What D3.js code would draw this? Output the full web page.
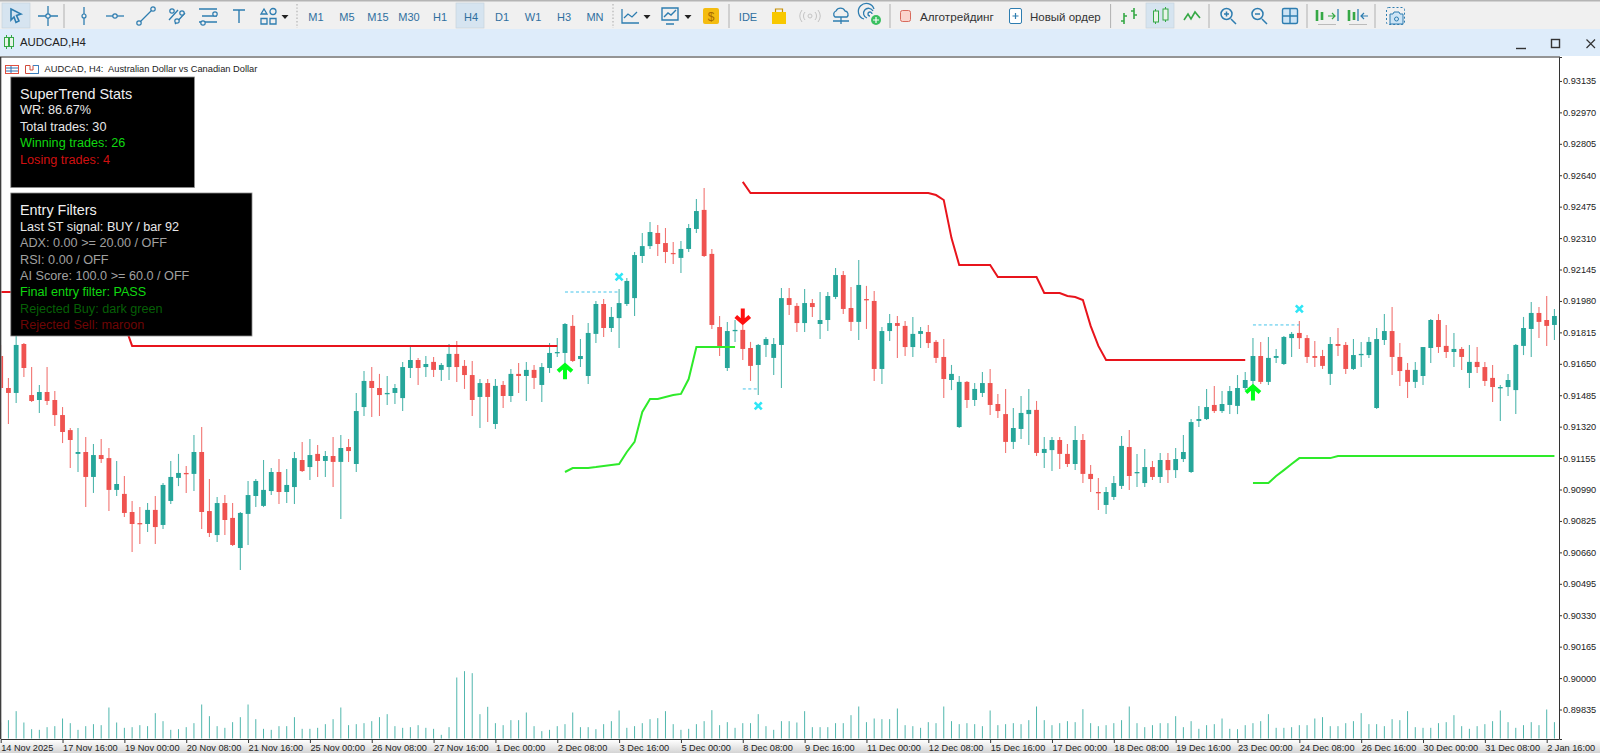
<!DOCTYPE html>
<html>
<head>
<meta charset="utf-8">
<title>AUDCAD,H4</title>
<script src="https://cdn.jsdelivr.net/npm/d3@7"></script>
<style>
	html, body { margin: 0; padding: 0; background: #fff; overflow: hidden; }
	text { font-family: "Liberation Sans", Arial, sans-serif; }
</style>
</head>
<body>
<div id="chart"></div>
<script>

// prices are in points, 1 point = 0.00001
var opens = [
	91691,91523,91497,91754,91486,91460,91502,91460,91381,91302,
	91177,91187,91056,91171,91155,90988,90967,90872,90814,90809,
	90883,90804,90930,91051,91077,91072,91187,90877,90751,90919,
	90841,90683,90862,90956,90904,90982,91082,90977,91003,91145,
	91108,91177,91140,91166,91135,91213,91124,91423,91560,91523,
	91492,91497,91470,91628,91670,91633,91660,91618,91633,91702,
	91639,91591,91476,91549,91334,91539,91481,91597,91586,91618,
	91539,91628,91707,91707,91849,91675,91586,91807,91964,91838,
	91890,91964,91995,92216,92268,92337,92284,92232,92206,92253,
	92358,92458,92227,91843,91628,91822,91828,91733,91644,91749,
	91681,91749,91995,91954,91864,91969,91859,91880,92001,92116,
	91943,91870,91990,91980,91623,91822,91864,91849,91738,91807,
	91817,91765,91686,91565,91318,91555,91460,91497,91549,91439,
	91386,91240,91308,91386,91408,91182,91197,91250,91177,91124,
	91250,91072,90977,90909,90951,91009,91213,91077,91024,91108,
	91056,91145,91092,91150,91082,91350,91360,91434,91402,91434,
	91429,91523,91560,91691,91555,91681,91649,91785,91812,91785,
	91691,91691,91597,91754,91749,91623,91696,91696,91418,91775,
	91822,91686,91618,91555,91586,91733,91880,91744,91712,91728,
	91602,91660,91633,91576,91523,91528,91512,91744,91833,91917,
	91880,91854
];
var highs = [
	91749,91576,91801,91759,91633,91539,91633,91507,91423,91313,
	91313,91266,91229,91255,91208,91140,91061,90930,90898,90919,
	90956,91024,91140,91177,91114,91276,91318,91045,90951,90961,
	90919,90872,91035,91045,91145,91103,91150,91098,91187,91240,
	91255,91224,91192,91266,91276,91255,91497,91612,91633,91597,
	91586,91544,91660,91738,91681,91691,91686,91654,91754,91770,
	91670,91665,91570,91570,91570,91560,91623,91654,91660,91644,
	91654,91759,91786,91864,91906,91780,91864,91980,91990,91948,
	92043,92100,92237,92337,92395,92379,92363,92289,92295,92384,
	92515,92573,92253,91901,91870,91880,91854,91765,91754,91791,
	91786,92048,92048,91969,92043,91990,92027,92027,92153,92137,
	92053,92195,92059,92032,91843,91912,91901,91875,91896,91843,
	91854,91775,91780,91644,91586,91560,91549,91607,91623,91492,
	91518,91418,91481,91518,91455,91266,91266,91266,91229,91324,
	91281,91119,91051,91003,91061,91271,91302,91177,91203,91140,
	91182,91182,91208,91276,91360,91428,91518,91533,91507,91533,
	91591,91607,91786,91765,91791,91728,91796,91817,91875,91801,
	91770,91723,91791,91838,91765,91780,91765,91791,91838,91911,
	91948,91759,91654,91660,91738,91885,91911,91854,91812,91738,
	91749,91738,91660,91644,91539,91597,91754,91896,91975,91948,
	92006,91938
];
var lows = [
	91512,91334,91444,91581,91450,91392,91434,91324,91234,91103,
	91082,90898,90972,91129,90877,90956,90846,90662,90704,90767,
	90704,90783,90914,91008,90972,90982,90783,90741,90715,90751,
	90694,90568,90699,90898,90898,90961,90914,90919,90914,91082,
	91040,91056,91056,91003,90835,91135,91082,91376,91371,91376,
	91434,91439,91402,91576,91539,91581,91581,91560,91565,91555,
	91518,91376,91313,91345,91308,91418,91450,91497,91455,91518,
	91450,91602,91686,91607,91660,91633,91544,91759,91791,91817,
	91733,91953,91901,92179,92253,92216,92179,92174,92127,92237,
	92337,92211,91833,91691,91612,91765,91670,91560,91486,91686,
	91591,91523,91906,91817,91817,91896,91780,91822,91990,91912,
	91822,91775,91833,91560,91544,91770,91681,91691,91686,91733,
	91733,91654,91471,91512,91313,91418,91429,91476,91381,91366,
	91182,91203,91255,91224,91166,91103,91087,91098,91108,91093,
	91024,90977,90883,90862,90935,90993,90988,91003,91003,91040,
	91024,91024,91051,91135,91077,91318,91355,91392,91392,91386,
	91386,91512,91533,91544,91539,91654,91644,91686,91728,91654,
	91633,91623,91539,91691,91597,91618,91633,91681,91413,91749,
	91591,91533,91470,91523,91539,91654,91707,91681,91633,91618,
	91523,91602,91533,91450,91350,91481,91386,91696,91686,91785,
	91744,91775
];
var closes = [
	91523,91497,91749,91628,91455,91502,91455,91381,91292,91250,
	91187,91056,91171,91150,90988,91019,90867,90809,90809,90883,
	90793,91014,91056,91077,91072,91187,90872,90762,90919,90830,
	90699,90867,90961,91035,90988,91082,90977,91014,91155,91087,
	91171,91140,91166,91135,91208,91192,91402,91560,91523,91486,
	91497,91523,91633,91670,91628,91649,91618,91644,91702,91633,
	91591,91460,91549,91476,91534,91481,91597,91586,91618,91576,
	91633,91707,91712,91859,91665,91691,91812,91964,91838,91896,
	91969,92085,92221,92268,92342,92279,92237,92227,92253,92363,
	92452,92216,91854,91738,91822,91828,91728,91639,91749,91780,
	91754,91995,91959,91864,91969,91948,91880,92006,92116,91938,
	91870,92064,91985,91623,91822,91864,91849,91738,91807,91822,
	91759,91681,91570,91597,91555,91460,91518,91549,91434,91402,
	91240,91313,91392,91408,91182,91203,91250,91177,91124,91250,
	91072,91045,90972,90977,91024,91219,91061,91082,91108,91056,
	91145,91092,91150,91187,91344,91360,91423,91402,91439,91507,
	91523,91565,91691,91555,91681,91691,91791,91807,91785,91686,
	91681,91639,91754,91744,91623,91696,91702,91765,91780,91822,
	91686,91612,91555,91618,91738,91880,91738,91712,91728,91686,
	91660,91633,91560,91528,91528,91565,91749,91838,91917,91870,
	91849,91901
];
var volumes = [
	480,550,820,480,280,260,340,370,600,460,
	260,370,430,400,930,480,320,340,400,370,
	760,520,260,280,340,460,1020,670,370,320,
	490,640,1020,580,290,260,370,370,640,290,
	290,320,430,580,930,400,430,460,520,640,
	730,370,320,340,400,320,290,110,340,1830,
	2020,1960,730,950,460,400,550,550,780,370,
	220,260,370,430,780,340,340,280,430,520,
	840,320,370,460,580,610,820,430,260,290,
	430,520,850,400,490,320,460,460,730,370,
	260,520,520,480,820,340,340,340,460,460,
	700,960,490,600,580,580,900,400,370,320,
	490,460,960,520,430,460,430,370,840,400,
	430,460,430,550,960,550,400,460,520,490,
	880,460,370,400,460,550,960,460,340,400,
	460,460,670,340,520,290,400,430,600,290,
	280,400,460,520,730,320,320,340,400,400,
	600,640,370,370,460,520,760,430,430,370,
	580,550,820,340,320,320,460,490,700,370,
	290,370,430,520,840,490,320,400,490,400,
	870,490
];

var priceTicks = [93135,92970,92805,92640,92475,92310,92145,91980,91815,91650,91485,91320,91155,90990,90825,90660,90495,90330,90165,90000,89835];

var timeLabels = [
	"14 Nov 2025","17 Nov 16:00","19 Nov 00:00","20 Nov 08:00","21 Nov 16:00","25 Nov 00:00",
	"26 Nov 08:00","27 Nov 16:00","1 Dec 00:00","2 Dec 08:00","3 Dec 16:00","5 Dec 00:00",
	"8 Dec 08:00","9 Dec 16:00","11 Dec 00:00","12 Dec 08:00","15 Dec 16:00","17 Dec 00:00",
	"18 Dec 08:00","19 Dec 16:00","23 Dec 00:00","24 Dec 08:00","26 Dec 16:00","30 Dec 00:00",
	"31 Dec 08:00","2 Jan 16:00"
];

// SuperTrend line pieces as [bar, price]
var stRedA = [[0,92027],[15,92027],[16,91859],[17,91744],[72,91744]];
var stGreenA = [[73,91082],[74,91103],[76,91103],[77,91108],[78,91114],[79,91119],[80,91124],[81,91187],[82,91240],[83,91397],[84,91465],[85,91465],[86,91476],[87,91486],[88,91492],[89,91570],[90,91738],[95,91738]];
var stRedB = [[96,92605],[97,92547],[120,92547],[121,92536],[122,92510],[123,92310],[124,92169],[128,92169],[129,92106],[134,92106],[135,92022],[137,92022],[138,92006],[139,92001],[140,91985],[141,91849],[142,91744],[143,91670],[161,91670]];
var stGreenB = [[162,91024],[164,91024],[165,91061],[166,91092],[167,91124],[168,91155],[172,91155],[173,91166],[201,91166]];

// entry arrows and the exit crosses with their dashed level
var buyArrows = [[73,91655],[162,91544]];
var sellArrows = [[96,91854]];
var exitCrosses = [[80,92106],[98,91429],[168,91938]];
var exitLevels = [[73,80,92027],[96,98,91518],[162,168,91854]];

var statsLines = ["WR: 86.67%","Total trades: 30","Winning trades: 26","Losing trades: 4"];
var statsColors = ["#e8e8e8","#e8e8e8","#10d810","#d01010"];
var filterLines = ["Last ST signal: BUY / bar 92","ADX: 0.00 >= 20.00 / OFF","RSI: 0.00 / OFF","AI Score: 100.0 >= 60.0 / OFF","Final entry filter: PASS","Rejected Buy: dark green","Rejected Sell: maroon"];
var filterColors = ["#e8e8e8","#a0a0a0","#a0a0a0","#a0a0a0","#10d810","#065f06","#6e0505"];

var width = 1600;
var height = 753;
var plot = {left: 1, right: 1559, top: 57, bottom: 739};
var upColor = "#26a69a";
var downColor = "#ef5350";

var svg = d3.select("#chart").append("svg")
	.attr("width", width)
	.attr("height", height)
	.style("display", "block");

var defs = svg.append("defs");
defs.append("clipPath").attr("id", "plot-clip")
	.append("rect")
	.attr("x", plot.left + 0.5)
	.attr("y", plot.top)
	.attr("width", plot.right - plot.left - 0.5)
	.attr("height", plot.bottom - plot.top);
var fade = defs.append("linearGradient").attr("id", "axis-fade")
	.attr("x1", 0).attr("x2", 0).attr("y1", 0).attr("y2", 1);
fade.append("stop").attr("offset", "0%").attr("stop-color", "#ffffff");
fade.append("stop").attr("offset", "100%").attr("stop-color", "#d4d4d4");

var x = d3.scaleLinear().domain([0, 200]).range([0.7, 1546.7]);
var y = d3.scaleLinear().domain([93260.75, 89680.25]).range([plot.top, plot.bottom]);
var yVolume = d3.scaleLinear().domain([0, 3000]).range([738.5, 638.5]);

svg.append("rect").attr("width", width).attr("height", height).attr("fill", "#fff");
svg.append("rect").attr("x", 0).attr("y", 740).attr("width", width).attr("height", 13).attr("fill", "url(#axis-fade)");

drawToolbar();

var chart = svg.append("g").attr("clip-path", "url(#plot-clip)");

// volume
chart.append("g").selectAll("line")
	.data(volumes)
	.enter().append("line")
	.attr("x1", function(d, i) { return x(i); })
	.attr("x2", function(d, i) { return x(i); })
	.attr("y1", yVolume(0))
	.attr("y2", function(d) { return yVolume(d); })
	.attr("stroke", upColor)
	.attr("stroke-width", 1)
	.attr("opacity", 0.8);

// candles
var candle = chart.append("g").selectAll("g")
	.data(opens)
	.enter().append("g");

candle.append("line")
	.attr("x1", function(d, i) { return x(i); })
	.attr("x2", function(d, i) { return x(i); })
	.attr("y1", function(d, i) { return y(highs[i]); })
	.attr("y2", function(d, i) { return y(lows[i]); })
	.attr("stroke", function(d, i) { return closes[i] >= opens[i] ? upColor : downColor; })
	.attr("stroke-width", 1.1)
	.attr("opacity", 0.8);

candle.append("rect")
	.attr("x", function(d, i) { return x(i) - 2.4; })
	.attr("y", function(d, i) { return y(Math.max(opens[i], closes[i])); })
	.attr("width", 4.8)
	.attr("height", function(d, i) { return Math.max(1.3, Math.abs(y(opens[i]) - y(closes[i]))); })
	.attr("fill", function(d, i) { return closes[i] >= opens[i] ? upColor : downColor; });

// supertrend
var stLine = d3.line()
	.x(function(d) { return x(d[0]); })
	.y(function(d) { return y(d[1]); });

[[stRedA, "#e8141c"], [stGreenA, "#2eea2a"], [stRedB, "#e8141c"], [stGreenB, "#2eea2a"]].forEach(function(piece) {
	chart.append("path")
		.attr("d", stLine(piece[0]))
		.attr("fill", "none")
		.attr("stroke", piece[1])
		.attr("stroke-width", 2);
});

// exit levels
chart.append("g").selectAll("line")
	.data(exitLevels)
	.enter().append("line")
	.attr("x1", function(d) { return x(d[0]); })
	.attr("x2", function(d) { return x(d[1]); })
	.attr("y1", function(d) { return y(d[2]); })
	.attr("y2", function(d) { return y(d[2]); })
	.attr("stroke", "#45c4ea")
	.attr("stroke-width", 1)
	.attr("stroke-dasharray", "3,2.5");

chart.append("g").selectAll("path")
	.data(exitCrosses)
	.enter().append("path")
	.attr("transform", function(d) { return "translate(" + x(d[0]) + "," + y(d[1]) + ")"; })
	.attr("d", "M-3.5,-3.5L3.5,3.5M-3.5,3.5L3.5,-3.5")
	.attr("fill", "none")
	.attr("stroke", "#2fe6f6")
	.attr("stroke-width", 2.6);

// arrows point at their price
chart.append("g").selectAll("path")
	.data(buyArrows)
	.enter().append("path")
	.attr("transform", function(d) { return "translate(" + x(d[0]) + "," + y(d[1]) + ")"; })
	.attr("d", "M-7,8.5L0,2.4L7,8.5M0,2V16.5")
	.attr("fill", "none")
	.attr("stroke", "#00ff1a")
	.attr("stroke-width", 4);

chart.append("g").selectAll("path")
	.data(sellArrows)
	.enter().append("path")
	.attr("transform", function(d) { return "translate(" + x(d[0]) + "," + y(d[1]) + ")"; })
	.attr("d", "M-7,-8.5L0,-2.4L7,-8.5M0,-2V-16.5")
	.attr("fill", "none")
	.attr("stroke", "#ff1010")
	.attr("stroke-width", 4);

// axes
var yAxis = svg.append("g")
	.attr("transform", "translate(" + plot.right + ",0)")
	.call(d3.axisRight(y)
		.tickValues(priceTicks)
		.tickSize(3)
		.tickPadding(1)
		.tickFormat(function(d) { return (d / 100000).toFixed(5); }));
yAxis.select(".domain").attr("stroke", "#333");
yAxis.selectAll(".tick line").attr("stroke", "#333");
yAxis.selectAll("text")
	.attr("font-family", "Liberation Sans")
	.attr("font-size", 9.2)
	.attr("fill", "#222");

var xAxis = svg.append("g")
	.attr("transform", "translate(0," + plot.bottom + ")")
	.call(d3.axisBottom(x)
		.tickValues(d3.range(0, 201, 8))
		.tickSize(4)
		.tickFormat(function(d, i) { return timeLabels[i]; }));
xAxis.select(".domain").attr("d", "M" + plot.left + ",0.5H" + plot.right).attr("stroke", "#333");
xAxis.selectAll(".tick line").attr("stroke", "#333");
xAxis.selectAll("text")
	.attr("font-family", "Liberation Sans")
	.attr("font-size", 9.2)
	.attr("fill", "#222")
	.attr("text-anchor", "start")
	.attr("x", 0)
	.attr("y", 5)
	.attr("dy", "0.71em");

// chart frame
svg.append("line").attr("x1", 0).attr("x2", plot.right + 1).attr("y1", 57).attr("y2", 57).attr("stroke", "#2a2a2a").attr("stroke-width", 1.2);
svg.append("line").attr("x1", 0.7).attr("x2", 0.7).attr("y1", 57).attr("y2", 739).attr("stroke", "#2a2a2a").attr("stroke-width", 1.2);

// title
svg.append("text")
	.attr("x", 44.5).attr("y", 71.5)
	.attr("font-family", "DejaVu Sans")
	.attr("font-size", 9.3)
	.attr("fill", "#222")
	.text("AUDCAD, H4:  Australian Dollar vs Canadian Dollar")
	.attr("xml:space", "preserve");

// little icons in front of the title
var titleIcon = svg.append("g").attr("fill", "none").attr("stroke-width", 1);
titleIcon.append("rect").attr("x", 5.5).attr("y", 65.5).attr("width", 13).attr("height", 8).attr("stroke", "#e05040");
titleIcon.append("path").attr("d", "M6,68H18M6,71H18M11,66V73").attr("stroke", "#3070b0");
titleIcon.append("path").attr("d", "M25.5,65.5H30V70H33V65.5H38.5V73.5H25.5Z").attr("stroke", "#d04a3a");
titleIcon.append("path").attr("d", "M33,65.5H38.5V73.5H30").attr("stroke", "#3a80c0");

drawPanel(10.8, 77, 183.6, 110.5, "SuperTrend Stats", 99, statsLines, statsColors, 114, 16.6);
drawPanel(10.8, 193, 241.2, 143, "Entry Filters", 215, filterLines, filterColors, 230.7, 16.4);

function drawPanel(px, py, pw, ph, title, titleY, lines, colors, firstY, step) {
	var g = svg.append("g");
	g.append("rect")
		.attr("x", px).attr("y", py)
		.attr("width", pw).attr("height", ph)
		.attr("fill", "#000")
		.attr("stroke", "#8a8a8a")
		.attr("stroke-width", 0.8);
	g.append("text")
		.attr("x", 20).attr("y", titleY)
		.attr("font-size", 14.4)
		.attr("fill", "#f0f0f0")
		.text(title);
	g.selectAll(".row")
		.data(lines)
		.enter().append("text")
		.attr("class", "row")
		.attr("x", 20)
		.attr("y", function(d, i) { return firstY + i * step; })
		.attr("font-size", 12.65)
		.attr("fill", function(d, i) { return colors[i]; })
		.text(function(d) { return d; });
}

function drawToolbar() {
	var blue = "#2e7db0";
	var green = "#35a845";

	svg.append("rect").attr("x", 0).attr("y", 0).attr("width", width).attr("height", 29).attr("fill", "#f0f0f0");
	svg.append("rect").attr("x", 0).attr("y", 0).attr("width", width).attr("height", 1.5).attr("fill", "#b4b4b4");
	svg.append("rect").attr("x", 0).attr("y", 29).attr("width", width).attr("height", 27).attr("fill", "#deecfa");

	// pressed buttons
	[[2, 28], [456, 28], [1146, 28]].forEach(function(b) {
		svg.append("rect").attr("x", b[0]).attr("y", 3).attr("width", b[1]).attr("height", 25)
			.attr("fill", "#d6e4f0").attr("stroke", "#c4d0da").attr("stroke-width", 0.6);
	});

	// separators
	[64, 729, 890, 1110.6, 1209, 1307, 1375].forEach(function(sx) {
		svg.append("line").attr("x1", sx).attr("x2", sx).attr("y1", 4).attr("y2", 28).attr("stroke", "#b0b0b0").attr("stroke-width", 1);
	});
	[297, 613].forEach(function(sx) {
		svg.append("line").attr("x1", sx).attr("x2", sx).attr("y1", 4).attr("y2", 28).attr("stroke", "#bbb").attr("stroke-width", 1.4).attr("stroke-dasharray", "1.4,2");
	});

	function icon(ix, d, color, sw) {
		svg.append("path")
			.attr("transform", "translate(" + ix + ",16)")
			.attr("d", d)
			.attr("fill", "none")
			.attr("stroke", color || blue)
			.attr("stroke-width", sw || 1.3);
	}
	function dot(ix, iy, r) {
		svg.append("circle").attr("cx", ix).attr("cy", iy).attr("r", r || 2.2)
			.attr("fill", "#f0f0f0").attr("stroke", blue).attr("stroke-width", 1.2);
	}
	function caret(ix) {
		svg.append("path").attr("transform", "translate(" + ix + ",17)").attr("d", "M-3.5,-2H3.5L0,2Z").attr("fill", "#222");
	}

	icon(16, "M-5,-7L5,-2L0.5,-0.5L3,5L0,6.5L-2,1L-5,4Z", blue, 1.6);
	icon(48, "M-10,0H10M0,-10V10", blue);
	dot(48, 16, 2.2);
	icon(84, "M0,-9V9", blue);
	dot(84, 16, 2);
	icon(115, "M-9,0H9", blue);
	dot(115, 16, 2.2);
	icon(146, "M-7,7L7,-7", blue);
	dot(139, 23);
	dot(153, 9);
	icon(177, "M-8,4L1,-6M-2,8L8,-3", blue);
	dot(172, 11);
	dot(182, 13);
	dot(177, 21);
	icon(208, "M-9,-7H9M-6,0H9M-9,6H9", blue, 1.5);
	dot(203, 23);
	dot(215, 14);
	icon(239, "M-6,-6H6M0,-6V7", blue, 1.4);
	icon(268, "M-7,-2L-4,-7L-1,-2ZM2,-4.5a3,3 0 1,0 6,0a3,3 0 1,0 -6,0M-7,2.5H-1V8H-7ZM2,2.5H8V8H2Z", blue);
	caret(285);

	var periods = [["M1", 316], ["M5", 347], ["M15", 378], ["M30", 409], ["H1", 440], ["H4", 471], ["D1", 502], ["W1", 533], ["H3", 564], ["MN", 595]];
	periods.forEach(function(p) {
		svg.append("text").attr("x", p[1]).attr("y", 20.5).attr("text-anchor", "middle")
			.attr("font-size", 11).attr("fill", "#2f6f9f").text(p[0]);
	});

	icon(630, "M-8,-7V7H9M-6,2L-2,-2L2,1L7,-4", blue);
	caret(647);
	icon(670, "M-8,-8H8V4H-8ZM-4,8H4M-6,1L-2,-3L1,-1L6,-6", blue, 1.4);
	caret(688);
	svg.append("rect").attr("x", 703).attr("y", 8).attr("width", 16).attr("height", 16).attr("rx", 2).attr("fill", "#f4bc10");
	svg.append("text").attr("x", 711).attr("y", 20.5).attr("text-anchor", "middle").attr("font-size", 12).attr("fill", "#a86a00").text("$");
	svg.append("text").attr("x", 748).attr("y", 20.5).attr("text-anchor", "middle").attr("font-size", 11).attr("fill", "#2f6f9f").text("IDE");
	svg.append("path").attr("transform", "translate(779,16)").attr("d", "M-7,-4H7V8H-7Z").attr("fill", "#f8c800");
	icon(779, "M-3.5,-4V-7H3.5V-4", "#c89000", 1.2);
	icon(810, "M-2,0a2,2 0 1,0 4,0a2,2 0 1,0 -4,0M-5,-4a6,6 0 0,0 0,8M5,-4a6,6 0 0,1 0,8M-8,-6a10,10 0 0,0 0,12M8,-6a10,10 0 0,1 0,12", "#c4c4c4", 1);
	icon(841, "M-6,1a3.5,3.5 0 0,1 1,-6a5,5 0 0,1 9,0a3.5,3.5 0 0,1 2,6ZM-8,5H8M0,1V8", blue, 1.3);
	icon(871, "M-7,3a8,8 0 1,1 10,-10M-4,2a5,5 0 1,1 6,-7M-1,0a2,2 0 1,1 2,-2", blue, 1.3);
	svg.append("circle").attr("cx", 876).attr("cy", 20).attr("r", 5).attr("fill", "#39c060");
	icon(876, "M-3,4H3M0,1V7", "#fff", 1.2);

	svg.append("rect").attr("x", 900.5).attr("y", 10.5).attr("width", 10).attr("height", 11).attr("rx", 2)
		.attr("fill", "#fad4cc").attr("stroke", "#d86a5c");
	svg.append("text").attr("x", 920).attr("y", 20.5).attr("font-size", 11.7).attr("fill", "#333").text("Алготрейдинг");
	svg.append("rect").attr("x", 1009.5).attr("y", 8.5).attr("width", 12).attr("height", 15).attr("rx", 1.5)
		.attr("fill", "#fff").attr("stroke", blue);
	icon(1015.5, "M-3,0H3M0,-3V3", blue, 1.2);
	svg.append("text").attr("x", 1030).attr("y", 20.5).attr("font-size", 11.5).attr("fill", "#333").text("Новый ордер");

	icon(1129, "M-5,8V-3M-8,5H-5M-5,0H-2M5,3V-8M2,-5H5M5,-1H8", green, 1.6);
	icon(1160.5, "M-5,-7V8M5,-9V6", green, 1);
	svg.append("rect").attr("x", 1153.5).attr("y", 11).attr("width", 5).attr("height", 11).attr("fill", "#e8f4e8").attr("stroke", green);
	svg.append("rect").attr("x", 1163).attr("y", 9).attr("width", 5).attr("height", 11).attr("fill", "#e8f4e8").attr("stroke", green);
	icon(1192, "M-8,4L-4,-2L-1,3L3,-4L8,2", green, 1.6);

	icon(1228, "M-7,-2a5.5,5.5 0 1,0 11,0a5.5,5.5 0 1,0 -11,0M3,3L8,8M-4,-2H1M-1.5,-4.5V0.5", blue, 1.5);
	icon(1259, "M-7,-2a5.5,5.5 0 1,0 11,0a5.5,5.5 0 1,0 -11,0M3,3L8,8M-4,-2H1", blue, 1.5);
	svg.append("rect").attr("x", 1282.5).attr("y", 8.5).attr("width", 15).attr("height", 15).attr("rx", 1.5)
		.attr("fill", "#cde4f5").attr("stroke", blue).attr("stroke-width", 1.4);
	icon(1290, "M-7,0H7M0,-7V7", blue, 1.4);

	icon(1320, "M-3,-6V5M2,-4V4", green, 2.6);
	icon(1333, "M-5,0H2M-1,-3L2,0L-1,3", green, 1.2);
	icon(1338, "M0,-7V5", blue, 1.3);
	icon(1327, "M-9,8.5H9", "#bbb", 1);
	icon(1352, "M-3,-6V5M2,-4V4", green, 2.6);
	icon(1358, "M0,-7V5", blue, 1.3);
	icon(1366, "M-5,0H2M-2,-3L-5,0L-2,3", blue, 1.2);
	icon(1358, "M-9,8.5H9", "#bbb", 1);

	svg.append("rect").attr("x", 1386.5).attr("y", 7.5).attr("width", 18).attr("height", 17).attr("rx", 2)
		.attr("fill", "none").attr("stroke", blue).attr("stroke-dasharray", "2,2");
	svg.append("path").attr("d", "M1390,14H1393L1394,12H1399L1400,14H1403V24H1390Z").attr("fill", "#cde4f5").attr("stroke", blue);
	svg.append("circle").attr("cx", 1396.5).attr("cy", 19).attr("r", 2).attr("fill", "none").attr("stroke", blue);

	// tab
	icon(6.5, "M0,19V33", green, 1);
	icon(11.5, "M0,19V33", green, 1);
	svg.append("rect").attr("x", 4.5).attr("y", 37.5).attr("width", 4).attr("height", 9).attr("fill", "#e8f4e8").attr("stroke", green);
	svg.append("rect").attr("x", 9.5).attr("y", 37.5).attr("width", 4).attr("height", 9).attr("fill", "#e8f4e8").attr("stroke", green);
	svg.append("text").attr("x", 20).attr("y", 46).attr("font-size", 11.4).attr("fill", "#222").text("AUDCAD,H4");

	svg.append("path").attr("d", "M1516,48.5H1526").attr("stroke", "#333").attr("stroke-width", 1.4);
	svg.append("rect").attr("x", 1551.5).attr("y", 39.5).attr("width", 8).attr("height", 8).attr("fill", "none").attr("stroke", "#333").attr("stroke-width", 1.4);
	svg.append("path").attr("d", "M1586.5,39.5L1595,48M1595,39.5L1586.5,48").attr("stroke", "#333").attr("stroke-width", 1.2);
}

</script>
</body>
</html>
